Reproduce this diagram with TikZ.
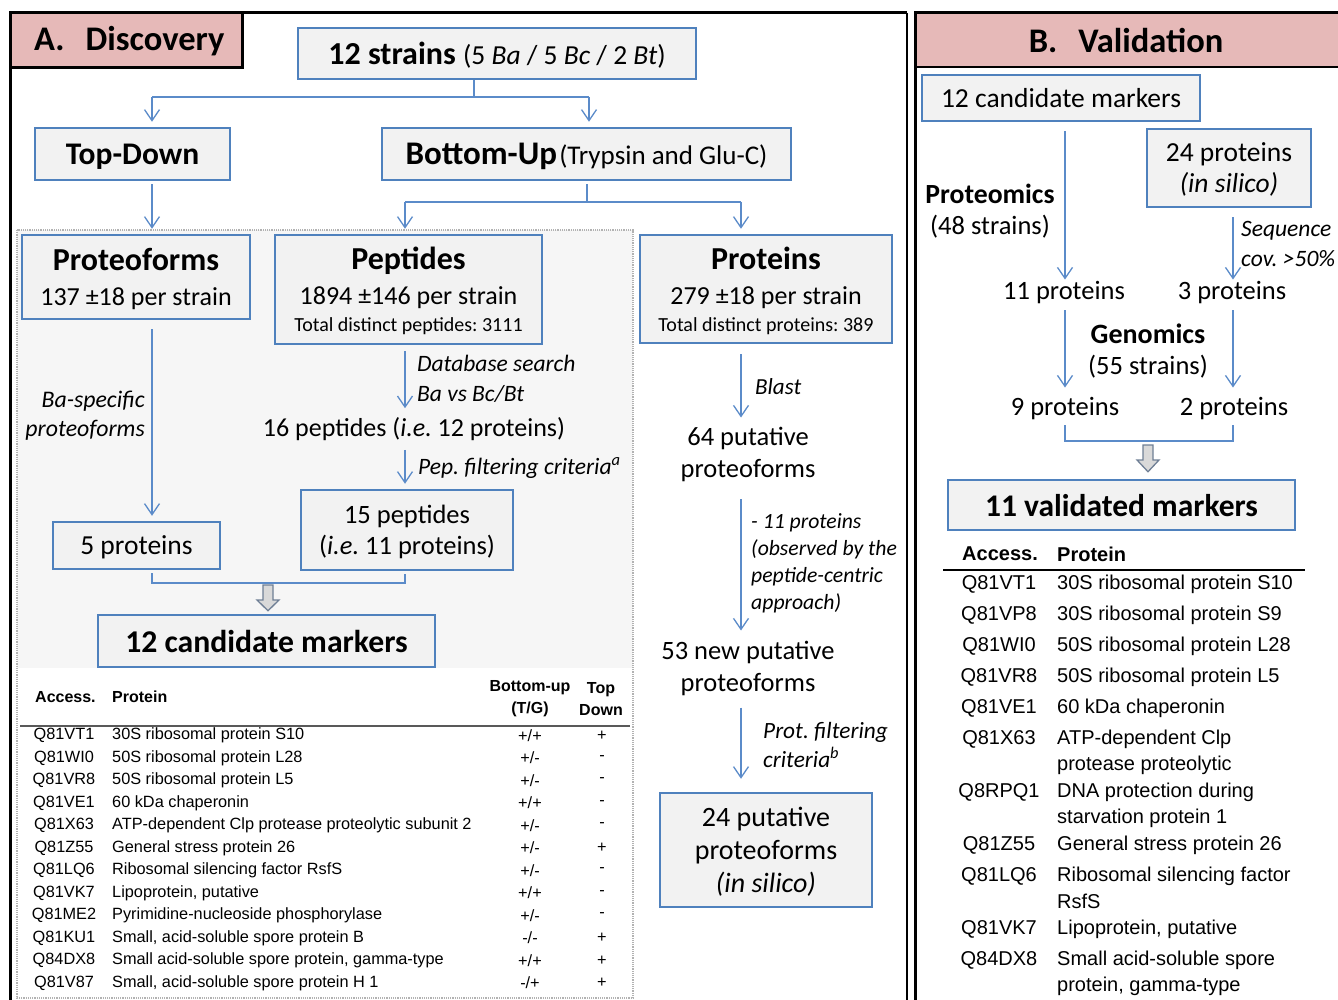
\documentclass[tikz,border=0pt]{standalone}
\usepackage{fontspec}
\setmainfont{Carlito}
\newfontfamily\arialf{Liberation Sans}
\usetikzlibrary{arrows.meta,calc}
\definecolor{bblue}{HTML}{4F81BD}
\definecolor{lblue}{HTML}{5B8BC9}
\definecolor{bfill}{HTML}{F2F2F2}
\definecolor{regfill}{HTML}{F6F6F6}
\definecolor{hdrpink}{HTML}{E6B9B8}
\definecolor{blkfill}{HTML}{D9D9D9}
\definecolor{blkline}{HTML}{6F7F95}
\newcommand\fz[2]{\fontsize{#1}{#2}\selectfont}
\frenchspacing
\begin{document}
\frenchspacing
\begin{tikzpicture}[x=1pt,y=-1pt,
  box/.style={draw=bblue, line width=2.5pt, fill=bfill, inner sep=0pt, align=center, text depth=0pt},
  ln/.style={draw=lblue, line width=1.3pt},
  arr/.style={ln, -{Straight Barb[length=11pt,width=15pt]}, shorten >=5pt},
  blk/.style={draw=blkline, fill=blkfill, line width=1.3pt, line join=miter},
  plain/.style={inner sep=0pt},
  lbl/.style={inner sep=0pt, align=left},
  tl/.style={inner sep=0pt, font=\arialf\fz{16.3}{20}},
  th/.style={inner sep=0pt, font=\arialf\bfseries\fz{16}{22}, align=center},
  tr/.style={inner sep=0pt, font=\arialf\fz{20}{24}},
  trh/.style={inner sep=0pt, font=\arialf\bfseries\fz{20}{24}},
]
\useasboundingbox (0,0) rectangle (1338,1000);
\clip (0,0) rectangle (1338,1000);

% regions and frames
\fill[regfill] (17,230) rectangle (633,668);
\draw[gray!60, densely dotted, line width=1.2pt] (17,230) rectangle (633,998);
\draw[line width=3pt] (10,1010) -- (10,13) -- (907,13);
\draw[line width=2pt] (907,13) -- (907,1010);
\draw[line width=3pt, fill=hdrpink] (10,13) rectangle (242,68);
\fill[hdrpink] (915,13) rectangle (1345,67);
\draw[line width=3pt] (915,1010) -- (915,13) -- (1345,13);
\draw[line width=2.5pt] (915,67) -- (1345,67);

\node[plain, anchor=west, font=\fz{34.5}{38}\bfseries] (ttlA) at (34,41) {A.\hspace{21pt}Discovery};
\node[plain, font=\fz{34.5}{38}\bfseries] (ttlB) at (1126,41) {B.\hspace{21pt}Validation};

% boxes
\node[box, minimum width=398pt, minimum height=51pt] (strains) at (497,53.5)
  {\fz{32}{36}\bfseries 12 strains \mdseries\fz{27.5}{30}(5 \textit{Ba} / 5 \textit{Bc} / 2 \textit{Bt})};
\node[box, minimum width=195pt, minimum height=52pt, font=\fz{31.5}{36}\bfseries] (topdown) at (132.5,154) {Top-Down};
\node[box, minimum width=409pt, minimum height=52pt] (bottomup) at (586.5,154)
  {{\fz{33}{36}\bfseries Bottom-Up} {\fz{27}{30}(Trypsin and Glu-C)}};
\node[box, minimum width=228pt, minimum height=84pt, font=\fz{26}{35}] (pform) at (136,277)
  {{\fz{32}{35}\bfseries Proteoforms}\\137 ±18 per strain};
\node[box, minimum width=267pt, minimum height=109pt, font=\fz{26}{35}] (pept) at (408.5,289.5)
  {{\fz{32}{35}\bfseries Peptides}\\1894 ±146 per strain\\[-8pt]{\fz{20}{22}Total distinct peptides: 3111}};
\node[box, minimum width=252pt, minimum height=108pt, font=\fz{26}{35}] (prot) at (766,289)
  {{\fz{32}{35}\bfseries Proteins}\\279 ±18 per strain\\[-8pt]{\fz{20}{22}Total distinct proteins: 389}};
\node[box, minimum width=167pt, minimum height=47pt, font=\fz{27.5}{30}] (five) at (136.5,545.5) {5 proteins};
\node[box, minimum width=212pt, minimum height=80pt, font=\fz{26.5}{31}] (fifteen) at (407,530)
  {15 peptides\\(\textit{i.e.} 11 proteins)};
\node[box, minimum width=337pt, minimum height=52pt, font=\fz{31.7}{36}\bfseries] (cand) at (266.5,641) {12 candidate markers};
\node[box, minimum width=212pt, minimum height=114pt, font=\fz{28}{33}] (put24) at (766,850)
  {24 putative\\proteoforms\\\textit{(in silico)}};
\node[box, minimum width=278pt, minimum height=46pt, font=\fz{27.5}{30}] (bcand) at (1061,98) {12 candidate markers};
\node[box, minimum width=164pt, minimum height=78pt, font=\fz{27.5}{31}] (p24) at (1229,168) {24 proteins\\\textit{(in silico)}};
\node[box, minimum width=347pt, minimum height=50pt, font=\fz{31.5}{36}\bfseries] (valid) at (1121.5,505) {11 validated markers};

% free text nodes
\node[plain, font=\fz{26}{30}] (pep16) at (414,429) {16 peptides (\textit{i.e.} 12 proteins)};
\node[plain, align=center, font=\fz{26.5}{32}] (put64) at (748,454) {64 putative\\proteoforms};
\node[plain, align=center, font=\fz{26.5}{32}] (new53) at (748,668) {53 new putative\\proteoforms};
\node[plain, font=\fz{26.5}{30}] (p11) at (1064,293) {11 proteins};
\node[plain, font=\fz{26.5}{30}] (p3) at (1232,293) {3 proteins};
\node[plain, font=\fz{26.5}{30}] (p9) at (1065,409) {9 proteins};
\node[plain, font=\fz{26.5}{30}] (p2) at (1234,409) {2 proteins};

% labels
\node[lbl, anchor=east, align=right, font=\fz{23.8}{29}\itshape] (lba) at (145,416) {Ba-specific\\proteoforms};
\node[lbl, anchor=west, font=\fz{23.5}{30}\itshape] (ldb) at (417,379) {Database search\\Ba vs Bc/Bt};
\node[lbl, anchor=west, font=\fz{23.5}{30}\itshape] (lpep) at (418,468) {Pep. filtering criteria\textsuperscript{a}};
\node[lbl, anchor=west, font=\fz{23}{30}\itshape] (lblast) at (755,387) {Blast};
\node[lbl, anchor=west, font=\fz{21.7}{27}\itshape] (l11) at (751,563) {- 11 proteins\\(observed by the\\peptide-centric\\approach)};
\node[lbl, anchor=west, font=\fz{23.3}{29}\itshape] (lprot) at (763,745) {Prot. filtering\\criteria\textsuperscript{b}};
\node[lbl, align=center, font=\fz{26.5}{31}] (lprteo) at (990,211) {{\fz{27.7}{31}\bfseries Proteomics}\\(48 strains)};
\node[lbl, anchor=west, font=\fz{23.5}{30}\itshape] (lseq) at (1241,244) {Sequence\\cov. >50\%};
\node[lbl, align=center, font=\fz{26.5}{31}] (lgen) at (1148,351) {{\fz{28}{31}\bfseries Genomics}\\(55 strains)};

% connectors A
\coordinate (j1) at (474,97);
\coordinate (j1l) at (152,97);
\coordinate (j1r) at (589,97);
\draw[ln] (j1 |- strains.south) -- (j1);
\draw[ln] (j1l) -- (j1r);
\draw[arr] (j1l) -- (j1l |- topdown.north);
\draw[arr] (j1r) -- (j1r |- bottomup.north);
\draw[arr, shorten <=3pt] (j1l |- topdown.south) -- (j1l |- pform.north);
\coordinate (j2) at (587,202);
\coordinate (j2l) at (405,202);
\coordinate (j2r) at (741,202);
\draw[ln, shorten <=3pt] (j2 |- bottomup.south) -- (j2);
\draw[ln] (j2l) -- (j2r);
\draw[arr] (j2l) -- (j2l |- pept.north);
\draw[arr] (j2r) -- (j2r |- prot.north);
\draw[arr, shorten <=9pt] (j1l |- pform.south) -- (j1l |- five.north);
\draw[arr, shorten <=6pt, shorten >=9pt] (j2l |- pept.south) -- (j2l |- pep16.north);
\draw[arr, shorten <=9pt] (j2l |- pep16.south) -- (j2l |- fifteen.north);
\coordinate (b1) at (152,583);
\coordinate (b2) at (405,583);
\draw[ln, shorten <=3pt, shorten >=3pt] (b1 |- five.south) -- (b1) -- (b2) -- (b2 |- fifteen.south);
\coordinate (ba) at (268,585);
\draw[blk] ($(ba)+(-5,0)$) -- ($(ba)+(5,0)$) -- ($(ba)+(5,15)$) -- ($(ba)+(11,15)$)
  -- ($(ba |- cand.north)+(0,-3)$) -- ($(ba)+(-11,15)$) -- ($(ba)+(-5,15)$) -- cycle;
\draw[arr, shorten <=10pt, shorten >=9pt] (j2r |- prot.south) -- (j2r |- put64.north);
\draw[arr, shorten <=18pt, shorten >=10pt] (j2r |- put64.south) -- (j2r |- new53.north);
\draw[arr, shorten <=12pt, shorten >=13pt] (j2r |- new53.south) -- (j2r |- put24.north);

% connectors B
\coordinate (k1) at (1065,441);
\coordinate (k2) at (1233,441);
\draw[arr, shorten <=9pt, shorten >=2pt] (k1 |- bcand.south) -- (k1 |- p11.north);
\draw[arr, shorten <=9pt, shorten >=2pt] (k2 |- p24.south) -- (k2 |- p3.north);
\draw[arr, shorten <=6pt, shorten >=10pt] (k1 |- p11.south) -- (k1 |- p9.north);
\draw[arr, shorten <=6pt, shorten >=10pt] (k2 |- p3.south) -- (k2 |- p2.north);
\draw[ln, shorten <=5pt, shorten >=5pt] (k1 |- p9.south) -- (k1) -- (k2) -- (k2 |- p2.south);
\coordinate (bb) at (1148,445);
\draw[blk] ($(bb)+(-5,0)$) -- ($(bb)+(5,0)$) -- ($(bb)+(5,15)$) -- ($(bb)+(11,15)$)
  -- ($(bb |- valid.north)+(0,-7)$) -- ($(bb)+(-11,15)$) -- ($(bb)+(-5,15)$) -- cycle;

% left table
\node[th, anchor=west] (hacc) at (35,697) {Access.};
\node[th, anchor=west] (hpro) at (112,697) {Protein};
\node[th] (hbu) at (530,699) {Bottom-up\\(T/G)};
\node[th] (htd) at (601,699) {Top\\Down};
\draw[gray!70!black, line width=1.5pt] (20,726) -- (630,726);
\foreach \ac/\pr/\bu/\td [count=\i from 0] in {
  {Q81VT1}/{30S ribosomal protein S10}/{+/+}/{+},
  {Q81WI0}/{50S ribosomal protein L28}/{+/-}/{-},
  {Q81VR8}/{50S ribosomal protein L5}/{+/-}/{-},
  {Q81VE1}/{60 kDa chaperonin}/{+/+}/{-},
  {Q81X63}/{ATP-dependent Clp protease proteolytic subunit 2}/{+/-}/{-},
  {Q81Z55}/{General stress protein 26}/{+/-}/{+},
  {Q81LQ6}/{Ribosomal silencing factor RsfS}/{+/-}/{-},
  {Q81VK7}/{Lipoprotein, putative}/{+/+}/{-},
  {Q81ME2}/{Pyrimidine-nucleoside phosphorylase}/{+/-}/{-},
  {Q81KU1}/{Small, acid-soluble spore protein B}/{-/-}/{+},
  {Q84DX8}/{Small acid-soluble spore protein, gamma-type}/{+/+}/{+},
  {Q81V87}/{Small, acid-soluble spore protein H 1}/{-/+}/{+}}{
  \pgfmathsetmacro\yy{735.5+22.5*\i}
  \node[tl] (la\i) at (64,\yy) {\ac};
  \node[tl, anchor=west] (lp\i) at (112,\yy) {\pr};
  \node[tl] (lb\i) at (530,\yy) {\bu};
  \node[tl] (lt\i) at (602,\yy) {\td};
}

% right table
\node[trh, anchor=west] (racc) at (962,554) {Access.};
\node[trh, anchor=west] (rpro) at (1057,554) {Protein};
\draw[line width=1.5pt] (943,570) -- (1305,570);
\foreach \yy/\ac/\pr [count=\i] in {
  584/{Q81VT1}/{30S ribosomal protein S10},
  615/{Q81VP8}/{30S ribosomal protein S9},
  646/{Q81WI0}/{50S ribosomal protein L28},
  677/{Q81VR8}/{50S ribosomal protein L5},
  708/{Q81VE1}/{60 kDa chaperonin},
  739/{Q81X63}/{ATP-dependent Clp},
  765/{}/{protease proteolytic},
  792/{Q8RPQ1}/{DNA protection during},
  818/{}/{starvation protein 1},
  845/{Q81Z55}/{General stress protein 26},
  876/{Q81LQ6}/{Ribosomal silencing factor},
  901/{}/{RsfS},
  929/{Q81VK7}/{Lipoprotein, putative},
  960/{Q84DX8}/{Small acid-soluble spore},
  986/{}/{protein, gamma-type}}{
  \node[tr] (ra\i) at (999,\yy) {\ac};
  \node[tr, anchor=west] (rp\i) at (1057,\yy) {\pr};
}
\end{tikzpicture}
\end{document}
